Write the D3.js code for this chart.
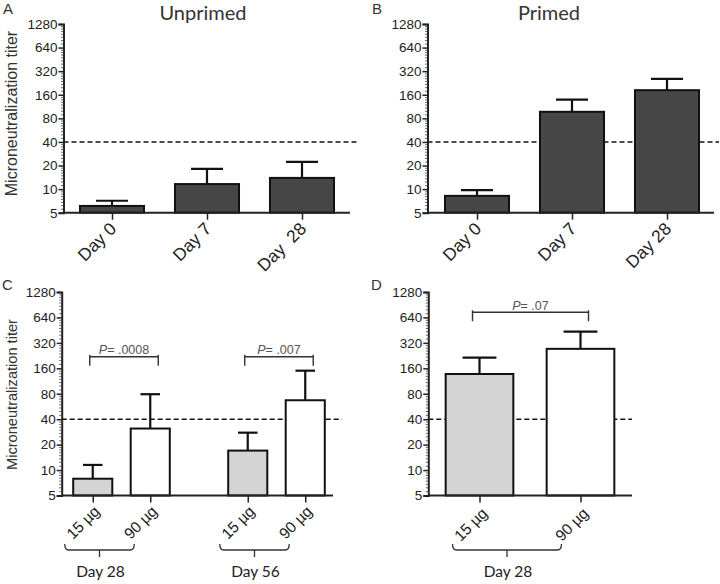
<!DOCTYPE html>
<html><head><meta charset="utf-8">
<script src="https://cdn.jsdelivr.net/npm/d3@7"></script>
<style>
body{margin:0;background:#fff;}
svg{display:block;}
text{white-space:pre;}
</style></head>
<body>
<svg id="chart" width="720" height="584"></svg>
<script>
// ---- data ----
const yTickValues = [5, 10, 20, 40, 80, 160, 320, 640, 1280];
const threshold = 40;
const dayLabelsA = ["Day 0", "Day 7", "Day  28"];
const dayLabelsB = ["Day 0", "Day 7", "Day 28"];
const unprimedMean = [6.1, 11.6, 13.9];
const unprimedUpper = [7.1, 18.1, 22.2];
const primedMean = [8.2, 97, 183];
const primedUpper = [9.7, 139, 255];
const doseLabels = ["15 µg", "90 µg"];
const groupsC = ["Day 28", "Day 56"];
const cMean15 = [7.9, 17.0];
const cMean90 = [31, 67];
const cUpper15 = [11.5, 27.7];
const cUpper90 = [79, 150];
const pValuesC = [".0008", ".007"];
const groupsD = ["Day 28"];
const dMean = [137, 272];
const dUpper = [214, 434];
const pValueD = ".07";
const titles = ["Unprimed", "Primed"];
const panelLetters = ["A", "B", "C", "D"];
const yLabel = "Microneutralization titer";

const svg = d3.select("#chart");
const tickFont = "'Liberation Sans', Arial, sans-serif";
const softFont = "Lato, 'Open Sans', sans-serif";
const darkFill = "#474747", grayFill = "#d4d4d4", whiteFill = "#ffffff";

// minor ticks for log2 axis
function minorTicks() {
  const m = [];
  for (let i = 0; i < yTickValues.length - 1; i++) {
    const a = yTickValues[i];
    for (let k = 1; k < 8; k++) m.push(a * (1 + k / 8));
  }
  return m;
}

function drawYAxis(g, y, axisX) {
  const ax = g.append("g").attr("transform", `translate(${axisX},0)`)
    .call(d3.axisLeft(y).tickValues(yTickValues).tickFormat(d3.format("d")).tickSize(5).tickPadding(1));
  ax.select(".domain").attr("stroke", "#222").attr("stroke-width", 2);
  ax.selectAll(".tick line").attr("stroke", "#222").attr("stroke-width", 1.5);
  ax.selectAll(".tick text").attr("font-family", tickFont).attr("font-size", 13.5).attr("fill", "#222");
  const mn = g.append("g").attr("transform", `translate(${axisX},0)`)
    .call(d3.axisLeft(y).tickValues(minorTicks()).tickFormat("").tickSize(2.5));
  mn.select(".domain").remove();
  mn.selectAll(".tick line").attr("stroke", "#444").attr("stroke-width", 0.8);
}

function drawBaseline(g, y, axisX, axisEnd) {
  g.append("line").attr("x1", axisX).attr("x2", axisEnd)
    .attr("y1", y(5)).attr("y2", y(5)).attr("stroke", "#222").attr("stroke-width", 2);
}

function drawThreshold(g, y, axisX, end) {
  g.append("line").attr("x1", axisX).attr("x2", end)
    .attr("y1", y(threshold)).attr("y2", y(threshold))
    .attr("stroke", "#111").attr("stroke-width", 1.4).attr("stroke-dasharray", "5,3");
}

function drawBar(g, x0, w, y, mean, upper, fill) {
  const yb = y(5), yt = y(mean), yu = y(upper), cx = x0 + w / 2;
  g.append("line").attr("x1", cx).attr("x2", cx).attr("y1", yt).attr("y2", yu)
    .attr("stroke", "#111").attr("stroke-width", 2.2);
  g.append("line").attr("x1", cx - w / 4).attr("x2", cx + w / 4).attr("y1", yu).attr("y2", yu)
    .attr("stroke", "#111").attr("stroke-width", 2.2);
  g.append("rect").attr("x", x0).attr("y", yt).attr("width", w).attr("height", yb - yt)
    .attr("fill", fill).attr("stroke", "#111").attr("stroke-width", 2);
}

function drawXTicks(g, centers, yb) {
  const xs = d3.scaleIdentity();
  const ax = g.append("g").attr("transform", `translate(0,${yb})`)
    .call(d3.axisBottom(xs).tickValues(centers).tickFormat("").tickSize(7));
  ax.select(".domain").remove();
  ax.selectAll(".tick line").attr("stroke", "#222").attr("stroke-width", 1.5);
}

function drawRotLabel(g, cx, yb, label, size, dx, dy) {
  g.append("text").attr("transform", `translate(${cx + dx},${yb + dy}) rotate(-45)`)
    .attr("text-anchor", "end").attr("dominant-baseline", "middle")
    .attr("font-family", tickFont).attr("font-size", size).attr("fill", "#222").text(label);
}

function drawYLabel(g, cy, size) {
  g.append("text").attr("transform", `translate(17,${cy}) rotate(-90)`)
    .attr("text-anchor", "middle").attr("font-family", tickFont).attr("font-size", size)
    .attr("fill", "#333").text(yLabel);
}

function drawLetter(g, x, yy, t) {
  g.append("text").attr("x", x).attr("y", yy).attr("font-family", tickFont)
    .attr("font-size", 15).attr("fill", "#333").text(t);
}

function drawPBracket(g, x1, x2, yy, p) {
  g.append("path").attr("d", `M${x1},${yy - 2}V${yy + 9}M${x1},${yy}H${x2}M${x2},${yy - 2}V${yy + 9}`)
    .attr("fill", "none").attr("stroke", "#333").attr("stroke-width", 1.4);
  const t = g.append("text").attr("x", (x1 + x2) / 2).attr("y", yy - 2.5).attr("text-anchor", "middle")
    .attr("font-family", tickFont).attr("font-size", 12.5).attr("fill", "#555");
  t.append("tspan").attr("font-style", "italic").text("P");
  t.append("tspan").text("= " + p);
}

function drawBrace(g, x1, x2, yy, label) {
  const mid = (x1 + x2) / 2;
  g.append("path").attr("d",
    `M${x1},${yy - 6}Q${x1},${yy} ${x1 + 4},${yy}H${x2 - 4}Q${x2},${yy} ${x2},${yy - 6}M${mid},${yy}V${yy + 7}`)
    .attr("fill", "none").attr("stroke", "#333").attr("stroke-width", 1.3);
  g.append("text").attr("x", mid + 1).attr("y", yy + 27).attr("text-anchor", "middle")
    .attr("font-family", softFont).attr("font-size", 15.5).attr("fill", "#222").text(label);
}

// ---- Panel A ----
{
  const g = svg.append("g");
  const axisX = 63.5, axisEnd = 350;
  const y = d3.scaleLog().base(2).domain([5, 1280]).range([212.7, 24]);
  const x = d3.scaleBand().domain(dayLabelsA).range([64.5, 349.5]).paddingInner(0.326).paddingOuter(0.163);
  drawThreshold(g, y, axisX, 359);
  dayLabelsA.forEach((d, i) => drawBar(g, x(d), x.bandwidth(), y, unprimedMean[i], unprimedUpper[i], darkFill));
  drawBaseline(g, y, axisX, axisEnd);
  drawYAxis(g, y, axisX);
  const centers = dayLabelsA.map(d => x(d) + x.bandwidth() / 2);
  drawXTicks(g, centers, y(5));
  dayLabelsA.forEach((d, i) => drawRotLabel(g, centers[i], y(5), d, 17.5, 2, 14));
  drawYLabel(g, 113.5, 16);
  drawLetter(g, 3, 14, panelLetters[0]);
  g.append("text").attr("x", 203).attr("y", 20).attr("text-anchor", "middle")
    .attr("font-family", softFont).attr("font-size", 20).attr("fill", "#333").text(titles[0]);
}

// ---- Panel B ----
{
  const g = svg.append("g");
  const axisX = 427.5, axisEnd = 714;
  const y = d3.scaleLog().base(2).domain([5, 1280]).range([212.7, 24]);
  const x = d3.scaleBand().domain(dayLabelsB).range([429.5, 714.5]).paddingInner(0.326).paddingOuter(0.163);
  drawThreshold(g, y, axisX, 719);
  dayLabelsB.forEach((d, i) => drawBar(g, x(d), x.bandwidth(), y, primedMean[i], primedUpper[i], darkFill));
  drawBaseline(g, y, axisX, axisEnd);
  drawYAxis(g, y, axisX);
  const centers = dayLabelsB.map(d => x(d) + x.bandwidth() / 2);
  drawXTicks(g, centers, y(5));
  dayLabelsB.forEach((d, i) => drawRotLabel(g, centers[i], y(5), d, 17.5, 2, 14));
  drawLetter(g, 372, 14, panelLetters[1]);
  g.append("text").attr("x", 549).attr("y", 20).attr("text-anchor", "middle")
    .attr("font-family", softFont).attr("font-size", 20).attr("fill", "#333").text(titles[1]);
}

// ---- Panel C ----
{
  const g = svg.append("g");
  const axisX = 61.7, axisEnd = 333;
  const y = d3.scaleLog().base(2).domain([5, 1280]).range([495.5, 292]);
  const xo = d3.scaleBand().domain(groupsC).range([44, 354]);
  const xi = d3.scaleBand().domain(doseLabels).range([20, 135]).paddingInner(0.32).paddingOuter(0.16);
  drawThreshold(g, y, axisX, 342);
  const centers = [];
  groupsC.forEach((grp, j) => {
    const base = xo(grp);
    drawBar(g, base + xi(doseLabels[0]), xi.bandwidth(), y, cMean15[j], cUpper15[j], grayFill);
    drawBar(g, base + xi(doseLabels[1]), xi.bandwidth(), y, cMean90[j], cUpper90[j], whiteFill);
    const c15 = base + xi(doseLabels[0]) + xi.bandwidth() / 2;
    const c90 = base + xi(doseLabels[1]) + xi.bandwidth() / 2;
    centers.push(c15, c90);
    drawPBracket(g, c15 - 3, c90 + 8, 356.7, pValuesC[j]);
    drawRotLabel(g, c15, y(5), doseLabels[0], 15.5, 5, 14);
    drawRotLabel(g, c90, y(5), doseLabels[1], 15.5, 5, 14);
    drawBrace(g, c15 - 28, c90 - 16, 550, grp);
  });
  drawBaseline(g, y, axisX, axisEnd);
  drawYAxis(g, y, axisX);
  drawXTicks(g, centers, y(5));
  drawYLabel(g, 394.5, 14.6);
  drawLetter(g, 2, 290, panelLetters[2]);
}

// ---- Panel D ----
{
  const g = svg.append("g");
  const axisX = 428.3, axisEnd = 632;
  const y = d3.scaleLog().base(2).domain([5, 1280]).range([495.5, 292]);
  const xi = d3.scaleBand().domain(doseLabels).range([429, 631]).paddingInner(0.33).paddingOuter(0.165);
  drawThreshold(g, y, axisX, 632);
  drawBar(g, xi(doseLabels[0]), xi.bandwidth(), y, dMean[0], dUpper[0], grayFill);
  drawBar(g, xi(doseLabels[1]), xi.bandwidth(), y, dMean[1], dUpper[1], whiteFill);
  const c15 = xi(doseLabels[0]) + xi.bandwidth() / 2;
  const c90 = xi(doseLabels[1]) + xi.bandwidth() / 2;
  drawPBracket(g, c15 - 7, c90 + 8, 312.3, pValueD);
  drawBaseline(g, y, axisX, axisEnd);
  drawYAxis(g, y, axisX);
  drawXTicks(g, [c15, c90], y(5));
  drawRotLabel(g, c15, y(5), doseLabels[0], 15.5, 6, 16);
  drawRotLabel(g, c90, y(5), doseLabels[1], 15.5, 6, 16);
  drawBrace(g, c15 - 27, c90 - 19, 550, groupsD[0]);
  drawLetter(g, 371, 290, panelLetters[3]);
}
</script>
</body></html>
